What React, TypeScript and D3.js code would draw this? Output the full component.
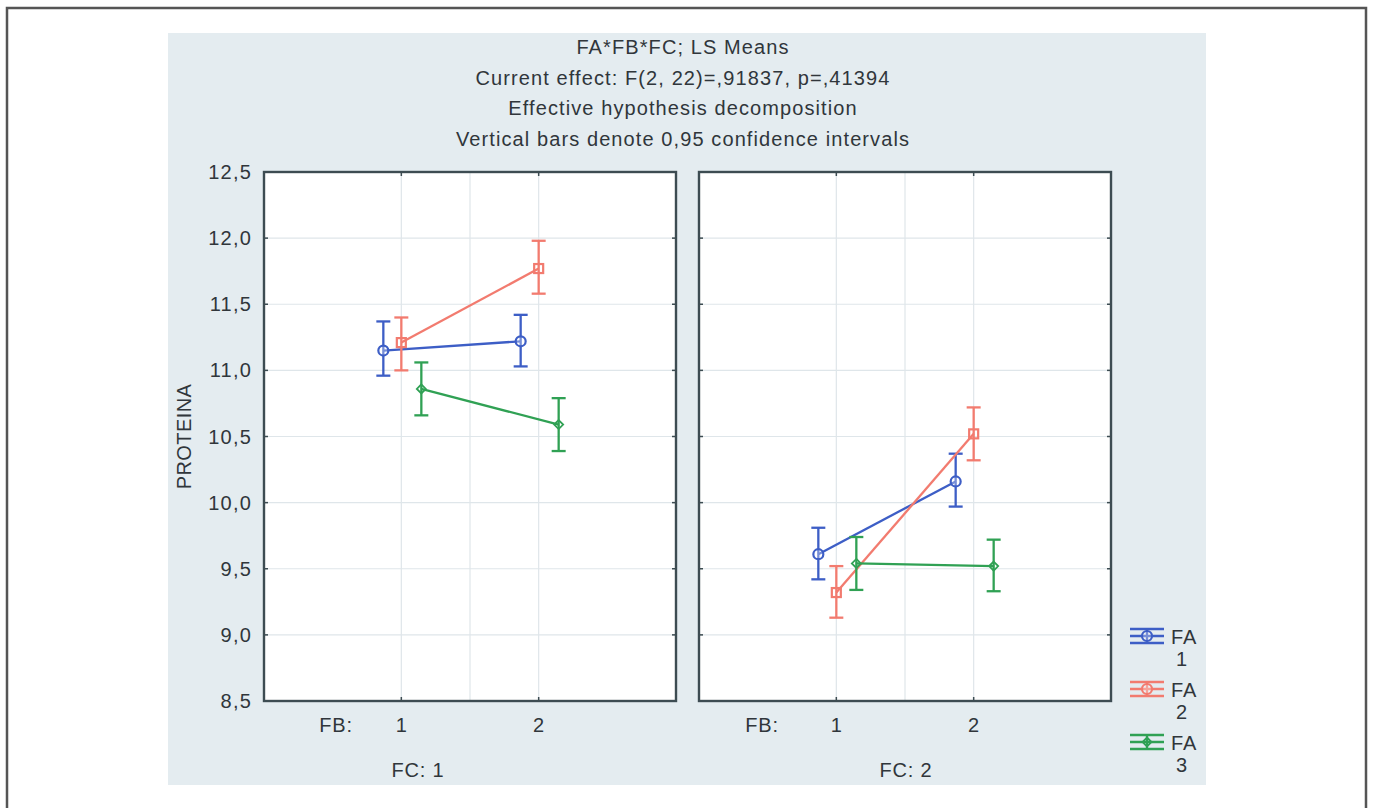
import React from "react";
import * as d3 from "d3";

// chart values
const titleLines = [
  "FA*FB*FC; LS Means",
  "Current effect: F(2, 22)=,91837, p=,41394",
  "Effective hypothesis decomposition",
  "Vertical bars denote 0,95 confidence intervals",
];
const fbLevels = [1, 2];
const fcLabels = ["FC: 1", "FC: 2"];
const faNames = ["FA", "FA", "FA"];
const faLevels = ["1", "2", "3"];
const yTicks = [8.5, 9.0, 9.5, 10.0, 10.5, 11.0, 11.5, 12.0, 12.5];
const yLabel = "PROTEINA";

// [FC panel][FB level]
const fa1Means = [[11.15, 11.22], [9.61, 10.16]];
const fa1Lower = [[10.96, 11.03], [9.42, 9.97]];
const fa1Upper = [[11.37, 11.42], [9.81, 10.37]];
const fa2Means = [[11.21, 11.77], [9.32, 10.52]];
const fa2Lower = [[11.0, 11.58], [9.13, 10.32]];
const fa2Upper = [[11.4, 11.98], [9.52, 10.72]];
const fa3Means = [[10.86, 10.59], [9.54, 9.52]];
const fa3Lower = [[10.66, 10.39], [9.34, 9.33]];
const fa3Upper = [[11.06, 10.79], [9.74, 9.72]];

const series = [
  { means: fa1Means, lower: fa1Lower, upper: fa1Upper, color: "#3d5ec6", marker: "circle", dx: -18 },
  { means: fa2Means, lower: fa2Lower, upper: fa2Upper, color: "#f27b6f", marker: "square", dx: 0 },
  { means: fa3Means, lower: fa3Lower, upper: fa3Upper, color: "#30a154", marker: "diamond", dx: 20 },
];

const W = 1373;
const H = 808;
const font = "'Liberation Sans', Arial, sans-serif";
const textColor = "#30363b";
const panelTop = 172;
const panelBottom = 701;
const panelLefts = [264, 699];
const panelWidth = 412;
const fbLabelX = [336, 762];
const fcLabelX = [418, 906];

const y = d3.scaleLinear().domain([8.5, 12.5]).range([panelBottom, panelTop]);

function Marker({ kind, x, cy, color }: { kind: string; x: number; cy: number; color: string }) {
  if (kind === "circle")
    return <circle cx={x} cy={cy} r={5} fill="white" fillOpacity={0.3} stroke={color} strokeWidth={2.2} />;
  if (kind === "square")
    return <rect x={x - 4.5} y={cy - 4.5} width={9} height={9} fill="none" stroke={color} strokeWidth={2.2} />;
  const s = 4.5;
  return (
    <path
      d={`M${x},${cy - s}L${x + s},${cy}L${x},${cy + s}L${x - s},${cy}Z`}
      fill="none"
      stroke={color}
      strokeWidth={1.8}
    />
  );
}

function Panel({ idx }: { idx: number }) {
  const left = panelLefts[idx];
  const x = d3.scaleLinear().domain([0, 3]).range([left, left + panelWidth]);
  const line = d3
    .line<number>()
    .x((_, i) => x(fbLevels[i]))
    .y((d) => y(d));
  return (
    <g>
      <rect x={left} y={panelTop} width={panelWidth} height={panelBottom - panelTop} fill="white" />
      {yTicks.slice(1, -1).map((t) => (
        <line key={t} x1={left} x2={left + panelWidth} y1={y(t)} y2={y(t)} stroke="#dfe6ea" strokeWidth={1.2} />
      ))}
      {[1, 1.5, 2].map((v) => (
        <line key={v} x1={x(v)} x2={x(v)} y1={panelTop} y2={panelBottom} stroke="#dfe6ea" strokeWidth={1.2} />
      ))}
      {series.map((s, si) => (
        <g key={si}>
          <path
            d={line(s.means[idx]) || ""}
            transform={`translate(${s.dx},0)`}
            fill="none"
            stroke={s.color}
            strokeWidth={2.3}
          />
          {fbLevels.map((fb, fi) => {
            const cx = x(fb) + s.dx;
            return (
              <g key={fb} stroke={s.color} strokeWidth={2.3}>
                <line x1={cx} x2={cx} y1={y(s.lower[idx][fi])} y2={y(s.upper[idx][fi])} />
                <line x1={cx - 7} x2={cx + 7} y1={y(s.lower[idx][fi])} y2={y(s.lower[idx][fi])} />
                <line x1={cx - 7} x2={cx + 7} y1={y(s.upper[idx][fi])} y2={y(s.upper[idx][fi])} />
              </g>
            );
          })}
          {fbLevels.map((fb, fi) => (
            <Marker key={fb} kind={s.marker} x={x(fb) + s.dx} cy={y(s.means[idx][fi])} color={s.color} />
          ))}
        </g>
      ))}
      {/* inward ticks */}
      {yTicks.map((t) => (
        <g key={t} stroke="#3d4c52" strokeWidth={1.5}>
          <line x1={left} x2={left + 4} y1={y(t)} y2={y(t)} />
          <line x1={left + panelWidth - 4} x2={left + panelWidth} y1={y(t)} y2={y(t)} />
        </g>
      ))}
      {fbLevels.map((fb) => (
        <g key={fb} stroke="#3d4c52" strokeWidth={1.5}>
          <line x1={x(fb)} x2={x(fb)} y1={panelTop} y2={panelTop + 4} />
          <line x1={x(fb)} x2={x(fb)} y1={panelBottom - 4} y2={panelBottom} />
        </g>
      ))}
      <rect
        x={left}
        y={panelTop}
        width={panelWidth}
        height={panelBottom - panelTop}
        fill="none"
        stroke="#3d4c52"
        strokeWidth={2.4}
      />
      <text x={fbLabelX[idx]} y={732} textAnchor="middle" fontSize={20} letterSpacing={0.8} fill={textColor}>
        FB:
      </text>
      {fbLevels.map((fb) => (
        <text key={fb} x={x(fb)} y={732} textAnchor="middle" fontSize={20} fill={textColor}>
          {fb}
        </text>
      ))}
      <text x={fcLabelX[idx]} y={777} textAnchor="middle" fontSize={20} letterSpacing={0.8} fill={textColor}>
        {fcLabels[idx]}
      </text>
    </g>
  );
}

export default function App() {
  const legendY = [636, 689, 742];
  return (
    <svg
      width={W}
      height={H}
      style={{ position: "absolute", left: 0, top: 0, fontFamily: font }}
    >
      <rect x={0} y={0} width={W} height={H} fill="white" />
      <path d={`M7,${H + 5}V8H1366V${H + 5}`} fill="none" stroke="#555" strokeWidth={2.5} />
      <rect x={168} y={33} width={1038} height={752} fill="#e4ecf0" />
      {titleLines.map((t, i) => (
        <text key={i} x={683} y={54 + i * 30.6} textAnchor="middle" fontSize={20} letterSpacing={1.1} fill={textColor}>
          {t}
        </text>
      ))}
      {yTicks.map((t) => (
        <text key={t} x={252} y={y(t) + 7} textAnchor="end" fontSize={20} letterSpacing={1.2} fill={textColor}>
          {d3.format(".1f")(t).replace(".", ",")}
        </text>
      ))}
      <text
        transform={`translate(191,${(panelTop + panelBottom) / 2}) rotate(-90)`}
        textAnchor="middle"
        fontSize={20}
        letterSpacing={0.4}
        fill={textColor}
      >
        {yLabel}
      </text>
      <Panel idx={0} />
      <Panel idx={1} />
      {series.map((s, i) => {
        const ly = legendY[i];
        return (
          <g key={i}>
            <g stroke={s.color} strokeWidth={2.3}>
              <line x1={1130} x2={1164} y1={ly - 7} y2={ly - 7} />
              <line x1={1130} x2={1164} y1={ly} y2={ly} />
              <line x1={1130} x2={1164} y1={ly + 7} y2={ly + 7} />
              <line x1={1147} x2={1147} y1={ly - 7} y2={ly + 7} />
            </g>
            <Marker kind={s.marker === "diamond" ? "diamond" : "circle"} x={1147} cy={ly} color={s.color} />
            <text x={1171} y={ly + 8} fontSize={20} letterSpacing={1} fill={textColor}>
              {faNames[i]}
            </text>
            <text x={1176} y={ly + 30} fontSize={20} fill={textColor}>
              {faLevels[i]}
            </text>
          </g>
        );
      })}
    </svg>
  );
}
